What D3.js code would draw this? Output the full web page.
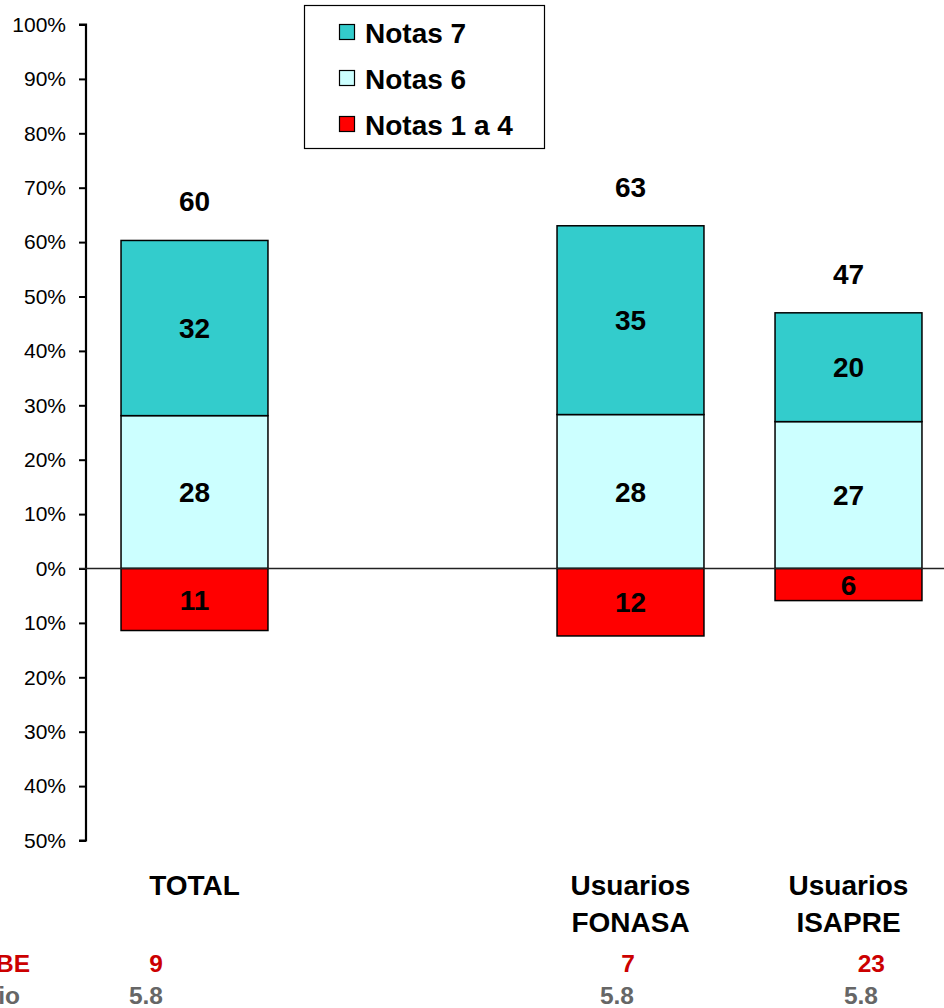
<!DOCTYPE html>
<html><head><meta charset="utf-8">
<script src="https://cdn.jsdelivr.net/npm/d3@7"></script>
<style>body{margin:0;background:#fff}svg{display:block}text{font-family:"Liberation Sans",Arial,sans-serif}</style>
</head><body>
<svg id="c" width="944" height="1008"></svg>
<script>
const categories = ["TOTAL", "", "Usuarios FONASA", "Usuarios ISAPRE"];
const catLines = [["TOTAL"], [], ["Usuarios", "FONASA"], ["Usuarios", "ISAPRE"]];
const notas7 = [32.2, null, 34.7, 20.0];
const notas6 = [28.1, null, 28.3, 27.0];
const notas14 = [11.4, null, 12.4, 5.9];
const label7 = ["32", "", "35", "20"];
const label6 = ["28", "", "28", "27"];
const label14 = ["11", "", "12", "6"];
const labelTotal = ["60", "", "63", "47"];
const rowBE = ["9", "", "7", "23"];
const rowProm = ["5.8", "", "5.8", "5.8"];
const yTicks = [-50, -40, -30, -20, -10, 0, 10, 20, 30, 40, 50, 60, 70, 80, 90, 100];
const seriesNames = ["Notas 7", "Notas 6", "Notas 1 a 4"];
const colors = {"Notas 7": "#33CCCC", "Notas 6": "#CCFFFF", "Notas 1 a 4": "#FF0000"};

const FONT = "'Liberation Sans',Arial,sans-serif";
const svg = d3.select("#c");
const y = d3.scaleLinear().domain([-50, 100]).range([840.5, 24.5]);
const x = d3.scaleBand().domain(categories.map((c,i)=>i)).range([85.5, 957.5]).paddingInner(0.326).paddingOuter(0.163);

// y axis
const yAxis = d3.axisLeft(y).tickValues(yTicks).tickSize(7).tickPadding(13)
  .tickFormat(d => Math.abs(d) + "%");
const ga = svg.append("g").attr("transform", "translate(86,0)").call(yAxis);
ga.attr("font-size", null).attr("font-family", null);
ga.select(".domain").attr("stroke", "#000").attr("stroke-width", 2.2).attr("d", `M-7,${y(100)}H0V${y(-50)}H-7`);
ga.selectAll(".tick line").attr("stroke", "#000").attr("stroke-width", 2);
ga.selectAll(".tick text").style("font-size", "21px").attr("fill", "#000").style("font-family", FONT);

function bold(sel, size) {
  return sel.style("font-size", size + "px").style("font-weight", "bold").style("font-family", FONT);
}

// bars
const bw = x.bandwidth();
categories.forEach((c, i) => {
  if (notas6[i] == null) return;
  const x0 = x(i);
  const segs = [
    {name: "Notas 6", y0: 0, y1: notas6[i], lab: label6[i]},
    {name: "Notas 7", y0: notas6[i], y1: notas6[i] + notas7[i], lab: label7[i]},
    {name: "Notas 1 a 4", y0: -notas14[i], y1: 0, lab: label14[i]}
  ];
  segs.forEach(s => {
    svg.append("rect").attr("x", x0).attr("width", bw)
      .attr("y", y(s.y1)).attr("height", y(s.y0) - y(s.y1))
      .attr("fill", colors[s.name]).attr("stroke", "#000").attr("stroke-width", 1.5);
  });
  segs.forEach(s => {
    bold(svg.append("text"), 28).attr("x", x0 + bw / 2).attr("y", (y(s.y0) + y(s.y1)) / 2)
      .attr("dy", "0.36em").attr("text-anchor", "middle").text(s.lab);
  });
  bold(svg.append("text"), 28).attr("x", x0 + bw / 2).attr("y", y(notas6[i] + notas7[i]) - 29)
    .attr("text-anchor", "middle").text(labelTotal[i]);
  catLines[i].forEach((ln, k) => {
    bold(svg.append("text"), 28).attr("x", x0 + bw / 2).attr("y", 895 + k * 37)
      .attr("text-anchor", "middle").text(ln);
  });
});

// zero line
svg.append("line").attr("x1", 79).attr("x2", 944).attr("y1", y(0)).attr("y2", y(0))
  .attr("stroke", "#222").attr("stroke-width", 1.5);

// legend
const lg = svg.append("g");
lg.append("rect").attr("x", 304.5).attr("y", 5.5).attr("width", 240).attr("height", 143)
  .attr("fill", "#fff").attr("stroke", "#000").attr("stroke-width", 1.2);
seriesNames.forEach((n, k) => {
  const by = 43 + k * 46;
  lg.append("rect").attr("x", 339.5).attr("y", by - 18.5).attr("width", 15).attr("height", 15)
    .attr("fill", colors[n]).attr("stroke", "#000").attr("stroke-width", 1.2);
  bold(lg.append("text"), 28).attr("x", 365).attr("y", by).text(n);
});

// bottom table rows
const tableX = [163, null, 635, 885];
const tableX2 = [163, null, 634, 878];
bold(svg.append("text"), 24.5).attr("x", 30).attr("y", 972).attr("text-anchor", "end")
  .attr("fill", "#CC0000").text("BE");
bold(svg.append("text"), 24.5).attr("x", 20).attr("y", 1004).attr("text-anchor", "end")
  .attr("fill", "#666").text("Promedio");
categories.forEach((c, i) => {
  if (tableX[i] == null) return;
  bold(svg.append("text"), 24.5).attr("x", tableX[i]).attr("y", 972).attr("text-anchor", "end")
    .attr("fill", "#CC0000").text(rowBE[i]);
  bold(svg.append("text"), 24.5).attr("x", tableX2[i]).attr("y", 1004).attr("text-anchor", "end")
    .attr("fill", "#666").text(rowProm[i]);
});
</script>
</body></html>
